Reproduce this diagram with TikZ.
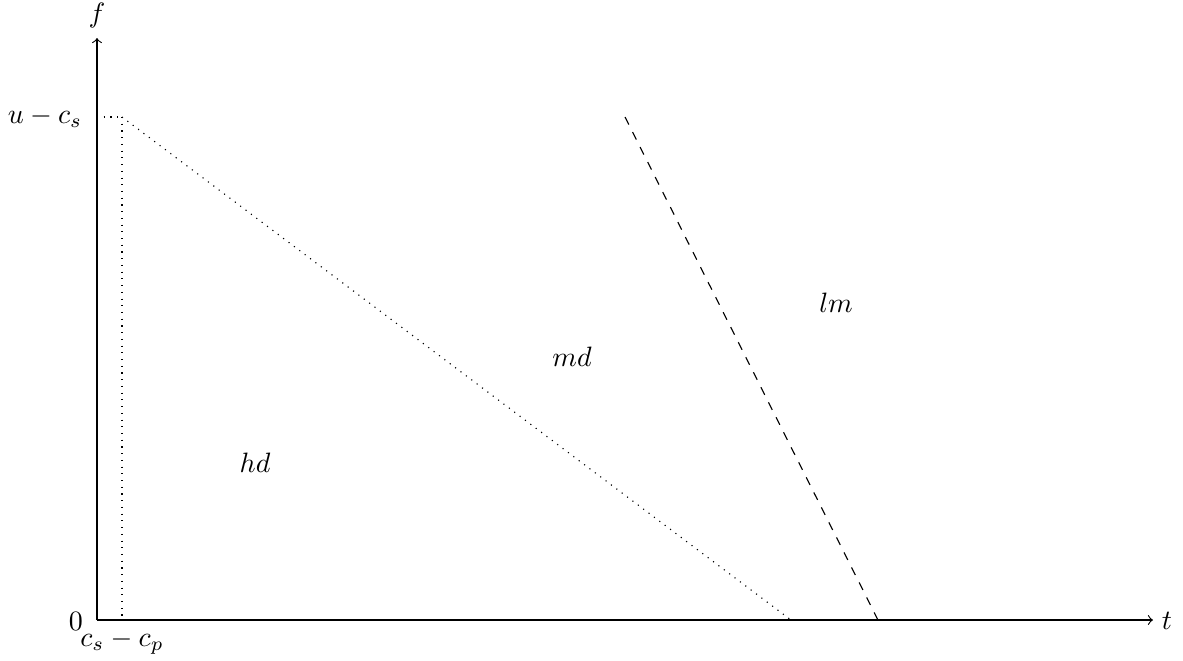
\documentclass[tikz,border=0pt]{standalone}
\begin{document}
\begin{tikzpicture}[x=0.357pt,y=-0.357pt,
  guide/.style={dotted},
  border/.style={dashed},
  lbl/.style={inner sep=0pt}]
\useasboundingbox (0,0) rectangle (1183,660);
\coordinate (O) at (97,620);
\coordinate (ytop) at (97,38);
\coordinate (xend) at (1153,620);
\coordinate (ay) at (97,117);
\coordinate (P) at (122,117);
\coordinate (Pb) at (122,620);
\coordinate (D) at (791,620);
\coordinate (Ea) at (625,117);
\coordinate (Eb) at (878,620);
\draw[->] (O) -- (xend);
\draw[->] (O) -- (ytop);
\node[lbl] (f) at (97,15) {$f$};
\node[lbl] (t) at (1167,621) {$t$};
\node[lbl] (zero) at (76,621) {$0$};
\node[lbl] (cscp) at (122,642) {$c_s-c_p$};
\node[lbl] (ucs) at (45,117) {$u-c_s$};
\draw[guide] (ay) -- (P);
\draw[guide] (P) -- (Pb);
\draw[guide] (P) -- (D);
\draw[border] (Ea) -- (Eb);
\node[lbl] (hd) at (255,463) {$hd$};
\node[lbl] (md) at (572,357) {$md$};
\node[lbl] (lm) at (836,303) {$lm$};
\end{tikzpicture}
\end{document}
